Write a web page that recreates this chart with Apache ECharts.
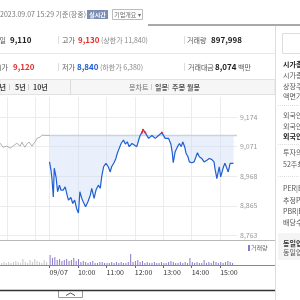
<!DOCTYPE html>
<html>
<head>
<meta charset="utf-8">
<script src="https://cdn.jsdelivr.net/npm/echarts@6/dist/echarts.min.js"></script>
<style>
  html, body { margin: 0; padding: 0; background: #fff; }
  #chart { width: 300px; height: 300px; }
</style>
</head>
<body>
<div id="chart"></div>
<script>
// previous close (전일)
const prevClose = 9110;

// previous session tail (gray line)
const prevTimes = ['13:46','13:52','14:00','14:07','14:13','14:21','14:23','14:28','14:32','14:34','14:38','14:42','14:47','14:53','14:55','14:59','15:04','15:06','15:10','15:14','15:16','15:30'];
const prevPrices = [9083,9069,9073,9066,9073,9083,9087,9073,9087,9080,9069,9080,9087,9073,9069,9087,9101,9097,9104,9111,9111,9110];

// today's intraday prices
const times = ['09:00','09:03','09:05','09:08','09:10','09:14','09:17','09:21','09:24','09:29','09:33','09:38','09:40','09:45','09:49','09:53','09:57','10:01','10:04','10:08','10:11','10:16','10:21','10:26','10:29','10:34','10:38','10:43','10:47','10:50','10:54','10:59','11:04','11:08','11:11','11:16','11:20','11:23','11:27','11:31','11:36','11:40','11:44','11:48','11:54','11:58','12:04','12:07','12:11','12:15','12:17','12:22','12:29','12:36','12:43','12:50','12:57','13:04','13:11','13:16','13:19','13:21','13:25','13:30','13:34','13:38','13:41','13:45','13:48','13:52','13:55','14:00','14:05','14:09','14:12','14:16','14:21','14:26','14:32','14:37','14:42','14:47','14:49','14:53','14:58','15:01','15:05','15:07','15:10','15:14','15:17','15:21','15:28','15:29'];
const prices = [9018,8989,8962,8896,8996,8962,8914,8937,8920,8920,8931,8896,8885,8894,8873,8885,8856,8840,8914,8891,8879,8862,8879,8902,8926,8891,8920,8937,8926,8966,9001,9013,9001,8983,9001,9015,9030,9048,9065,9082,9094,9080,9088,9071,9082,9088,9071,9088,9110,9120,9130,9120,9100,9110,9100,9110,9120,9100,9100,9080,9050,9015,9053,9071,9082,9071,9088,9071,9048,9036,9018,9015,9018,9036,9050,9036,9030,9018,9024,9030,9027,9018,8995,8960,9001,8966,8989,9001,9013,9007,8983,9013,9013,9013];

// volume, 5 minute buckets
const volStart = '09:00';
const vols = [10000,7000,8000,5000,6000,4000,5000,6000,4000,5000,7000,4000,
              6000,3000,4000,3000,2000,3000,4000,2000,2000,3000,3000,2000,
              2000,2000,3000,2000,3000,2000,3000,2000,2000,3000,11000,3000,
              4000,5000,3000,4000,2000,3000,2000,2000,3000,2000,2000,3000,
              2000,2000,3000,4000,3000,2000,2000,3000,2000,3000,2000,7000,
              3000,2000,3000,2000,2000,5000,2000,3000,2000,4000,3000,2000,
              3000,2000,3000,4000,3000,2000];
const prevVolStart = '13:50';
const prevVols = [2000,3000,2000,3000,2000,3000,4000,3000,2000,6000,3000,2000,5000,3000,6000,4000,3000,2000,5000,3000];

// axis ticks
const yTicks = [8763, 8865, 8968, 9071, 9174];
const hourTicks = [0, 60, 120, 180, 240, 300, 360];
const hourLabels = ['09/07', '10:00', '11:00', '12:00', '13:00', '14:00', '15:00'];
const prevHourTicks = [-90, -30];

const FONT = '"Noto Sans CJK KR", "Noto Sans", sans-serif';
const xMin = -104.5, xMax = 395.5;

function todayMin(t) { const p = t.split(':').map(Number); return p[0] * 60 + p[1] - 540; }
function prevMin(t) { const p = t.split(':').map(Number); return p[0] * 60 + p[1] - 930; }

const prevLine = prevTimes.map((t, i) => [prevMin(t), prevPrices[i]]);
const todayLine = times.map((t, i) => [todayMin(t), prices[i]]);
// points above the previous close are drawn red
const upLine = times.map((t, i) => [todayMin(t), prices[i] > prevClose ? prices[i] : '-']);
const volData = vols.map((v, i) => [todayMin(volStart) + i * 5, v]);
const prevVolData = prevVols.map((v, i) => [prevMin(prevVolStart) + i * 5, v]);

function T(text, x, y, o) {
    o = o || {};
    return {
        type: 'text', silent: true, z: 10,
        style: {
            text: text, x: x, y: y,
            fill: o.c || '#555',
            font: (o.w || 'normal') + ' ' + (o.s || 7) + 'px ' + FONT,
            textAlign: o.a || 'left', textVerticalAlign: 'middle'
        }
    };
}
function L(x1, y1, x2, y2, c, w, dash) {
    return { type: 'line', silent: true, z: 5, shape: { x1: x1, y1: y1, x2: x2, y2: y2 },
             style: { stroke: c, lineWidth: w || 1, lineDash: dash || null } };
}
function R(x, y, w, h, fill, stroke) {
    return { type: 'rect', silent: true, z: 4, shape: { x: x, y: y, width: w, height: h },
             style: { fill: fill || 'none', stroke: stroke || null, lineWidth: 1 } };
}

const RED = '#e3302f', BLUE = '#1f5fd3';

const deco = [
    // header
    T('2023.09.07 15:29 기준(장중)', 0, 14, { c: '#777' }),
    R(87, 10, 21, 9, '#7b8db3'),
    T('실시간', 97.5, 14.5, { c: '#fff', s: 6, a: 'center', w: 'bold' }),
    R(112.5, 9.5, 30, 10, '#fff', '#bbb'),
    T('기업개요 ▾', 127.5, 14.5, { c: '#666', s: 6, a: 'center' }),
    L(148, 25, 300, 25, '#555', 1.2),
    L(275.5, 26, 275.5, 300, '#ddd'),
    R(282.5, 33.5, 20, 20, '#fff', '#ddd'),

    // row 1
    T('전일', 6, 40, { a: 'right' }),
    T('9,110', 10, 40, { c: '#222', w: 'bold', s: 8 }),
    L(58.5, 36, 58.5, 44, '#ddd'),
    T('고가', 62, 40),
    T('9,130', 78, 40, { c: RED, w: 'bold', s: 8 }),
    T('(상한가 11,840)', 101, 40, { c: '#888' }),
    L(184.5, 36, 184.5, 44, '#ddd'),
    T('거래량', 187, 40),
    T('897,998', 211, 40, { c: '#222', w: 'bold', s: 8 }),
    L(0, 53.5, 275, 53.5, '#e8e8e8'),

    // row 2
    T('시가', 8, 67, { a: 'right' }),
    T('9,120', 13, 67, { c: RED, w: 'bold', s: 8 }),
    L(58.5, 63, 58.5, 71, '#ddd'),
    T('저가', 62, 67),
    T('8,840', 77, 67, { c: BLUE, w: 'bold', s: 8 }),
    T('(하한가 6,380)', 100, 67, { c: '#888' }),
    L(184.5, 63, 184.5, 71, '#ddd'),
    T('거래대금', 188, 67),
    T('8,074', 215, 67, { c: '#222', w: 'bold', s: 8 }),
    T('백만', 238, 67),

    // tab row
    R(0, 79.5, 275, 15, '#f6f6f7', '#e2e2e2'),
    L(70.5, 80, 70.5, 94, '#dcdcdc'),
    T('3년', 6, 87, { a: 'right', w: 'bold', c: '#444' }),
    L(9.5, 84, 9.5, 90, '#ccc'),
    T('5년', 15, 87, { w: 'bold', c: '#444' }),
    L(28.5, 84, 28.5, 90, '#ccc'),
    T('10년', 33, 87, { w: 'bold', c: '#444' }),
    T('봉차트', 129, 87, { w: 'bold', c: '#999' }),
    L(151.5, 84, 151.5, 90, '#ccc'),
    T('일봉', 155, 87, { w: 'bold', c: '#555' }),
    L(168.5, 84, 168.5, 90, '#ccc'),
    T('주봉', 172, 87, { w: 'bold', c: '#555' }),
    L(184.5, 84, 184.5, 90, '#ccc'),
    T('월봉', 187, 87, { w: 'bold', c: '#555' }),

    // chart frame
    L(0, 240.5, 275, 240.5, '#b8b8b8'),
    L(0, 265.5, 275, 265.5, '#888'),
    L(0, 290.5, 275, 290.5, '#333', 1.5),
    R(58.5, 290.5, 24, 7, '#fff', '#999'),
    { type: 'polyline', silent: true, z: 6, shape: { points: [[66, 295.5], [70.5, 293], [75, 295.5]] },
      style: { stroke: '#555', fill: 'none', lineWidth: 1 } },
    R(248, 245, 2, 6, '#8c78c8'),
    T('거래량', 251, 248, { s: 6, c: '#666' }),

    // right panel
    T('시가총액', 283, 64, { w: 'bold', c: '#222' }),
    T('시가총액순위', 283, 75),
    T('상장주식수', 283, 86),
    T('액면가|매매단위', 283, 96),
    L(278, 105.5, 300, 105.5, '#ddd', 1, [1, 1]),
    T('외국인한도주식수', 283, 115),
    T('외국인보유주식수', 283, 126),
    T('외국인소진율', 283, 136, { w: 'bold', c: '#222' }),
    L(278, 144.5, 300, 144.5, '#ddd', 1, [1, 1]),
    T('투자의견|목표주가', 283, 152),
    T('52주최고|최저', 283, 164),
    L(278, 176.5, 300, 176.5, '#ddd', 1, [1, 1]),
    T('PER|EPS', 283, 188),
    T('추정PER|EPS', 283, 200),
    T('PBR|BPS', 283, 211),
    T('배당수익률', 283, 222),
    R(278, 233, 22, 27, '#f4f4f4'),
    T('동일업종 PER', 283, 243, { w: 'bold', c: '#333' }),
    T('동일업종 등락률', 283, 252)
];

const chart = echarts.init(document.getElementById('chart'));
chart.setOption({
    animation: false,
    textStyle: { fontFamily: FONT },
    grid: [
        { left: 0, top: 97, width: 237, height: 143 },
        { left: 0, top: 241, width: 237, height: 24 }
    ],
    xAxis: [
        {
            type: 'value', gridIndex: 0, min: xMin, max: xMax,
            axisLine: { show: false },
            axisLabel: { show: false },
            axisTick: { show: false, customValues: prevHourTicks.concat(hourTicks) },
            splitLine: { show: true, lineStyle: { color: '#ececec', width: 1 } }
        },
        {
            type: 'value', gridIndex: 1, min: xMin, max: xMax,
            axisLine: { show: false },
            axisTick: { show: true, customValues: hourTicks, length: 3, lineStyle: { color: '#666' } },
            axisLabel: {
                customValues: hourTicks, align: 'left', margin: 4,
                fontSize: 7, color: '#333', fontFamily: FONT,
                formatter: function (v) { return hourLabels[hourTicks.indexOf(v)]; }
            },
            splitLine: { show: false }
        }
    ],
    yAxis: [
        {
            type: 'value', gridIndex: 0, position: 'right', min: 8746, max: 9244,
            axisLine: { show: false },
            axisTick: { show: false, customValues: yTicks },
            axisLabel: {
                customValues: yTicks, margin: 3, fontSize: 7, color: '#999', fontFamily: FONT,
                formatter: function (v) { return v.toLocaleString('en-US'); }
            },
            splitLine: { show: true, lineStyle: { color: '#ececec' } }
        },
        { type: 'value', gridIndex: 1, show: false, min: 0, max: 24000, splitLine: { show: false } }
    ],
    series: [
        {
            type: 'line', xAxisIndex: 0, yAxisIndex: 0, data: prevLine,
            symbol: 'none', lineStyle: { color: '#b0b0b0', width: 1 }, silent: true
        },
        {
            type: 'line', xAxisIndex: 0, yAxisIndex: 0, data: todayLine,
            symbol: 'none', lineStyle: { color: BLUE, width: 1.2 },
            areaStyle: { origin: prevClose, color: 'rgba(205,220,245,0.6)' },
            silent: true, z: 3
        },
        {
            // previous close reference line
            type: 'line', xAxisIndex: 0, yAxisIndex: 0,
            data: [[0, prevClose], [xMax, prevClose]],
            symbol: 'none', lineStyle: { color: '#c9d0dc', width: 1.5 }, silent: true, z: 2
        },
        {
            type: 'line', xAxisIndex: 0, yAxisIndex: 0, data: upLine,
            symbol: 'circle', symbolSize: 2, showSymbol: true,
            itemStyle: { color: RED }, lineStyle: { color: RED, width: 1.2 },
            silent: true, z: 4
        },
        {
            type: 'bar', xAxisIndex: 1, yAxisIndex: 1, data: prevVolData,
            barWidth: 1, itemStyle: { color: '#c6c6c6' }, silent: true
        },
        {
            type: 'bar', xAxisIndex: 1, yAxisIndex: 1, data: volData,
            barWidth: 1, itemStyle: { color: '#8c78c8' }, silent: true
        }
    ],
    graphic: { elements: deco }
});
</script>
</body>
</html>
